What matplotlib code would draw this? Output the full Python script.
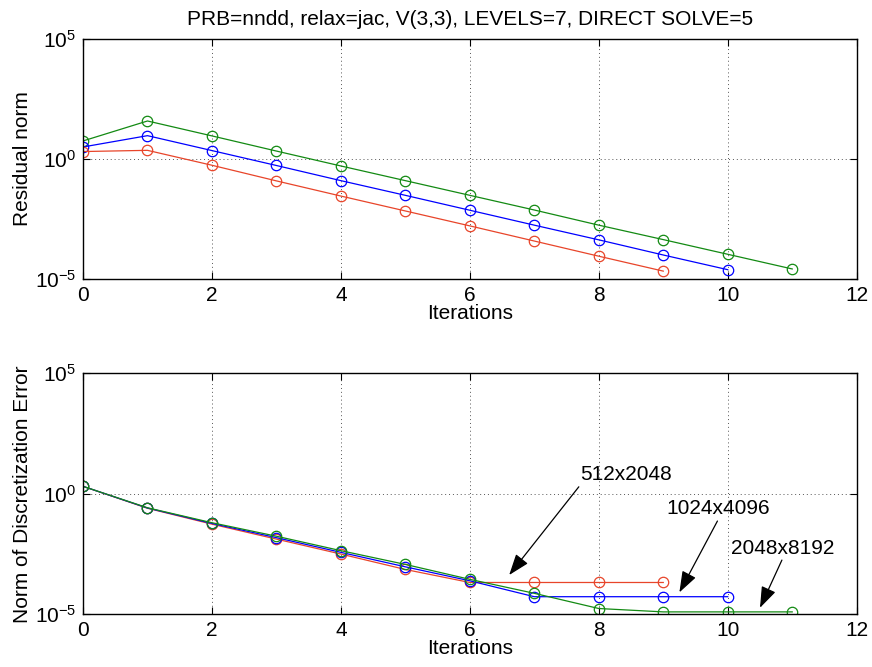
import numpy as np
import matplotlib
matplotlib.use("Agg")
import matplotlib.pyplot as plt

plt.rcParams['font.family'] = ['Liberation Sans', 'DejaVu Sans']

# Residual norm per multigrid iteration (log10 values)
res_it_red = [0, 1, 2, 3, 4, 5, 6, 7, 8, 9]
res_log_red = [0.31, 0.36, -0.26, -0.91, -1.54, -2.16, -2.78, -3.41, -4.04, -4.66]
res_it_blue = [0, 1, 2, 3, 4, 5, 6, 7, 8, 9, 10]
res_log_blue = [0.50, 0.97, 0.35, -0.27, -0.90, -1.51, -2.13, -2.75, -3.36, -3.99, -4.60]
res_it_green = [0, 1, 2, 3, 4, 5, 6, 7, 8, 9, 10, 11]
res_log_green = [0.75, 1.58, 0.96, 0.33, -0.29, -0.90, -1.51, -2.12, -2.75, -3.35, -3.96, -4.57]

# Norm of discretization error per iteration (log10 values)
err_log_red = [0.31, -0.60, -1.26, -1.88, -2.50, -3.14, -3.68, -3.68, -3.68, -3.68]
err_log_blue = [0.31, -0.59, -1.23, -1.82, -2.43, -3.03, -3.61, -4.27, -4.27, -4.27, -4.27]
err_log_green = [0.31, -0.58, -1.20, -1.76, -2.36, -2.93, -3.55, -4.13, -4.76, -4.90, -4.90, -4.90]

grid_labels = ['512x2048', '1024x4096', '2048x8192']
x_ticks = [0, 2, 4, 6, 8, 10, 12]

RED = '#e8452a'
BLUE = '#0000ff'
GREEN = '#138a13'
FS = 15

fig = plt.figure(figsize=(8.72, 6.67), dpi=100)
W, H = 872, 667
ax1 = fig.add_axes([83 / W, 1 - 279.3 / H, (856.7 - 83) / W, (279.3 - 38.7) / H])
ax2 = fig.add_axes([83 / W, 1 - 614.3 / H, (856.7 - 83) / W, (614.3 - 373.3) / H])

line_kw = dict(marker='o', markersize=7.5, markerfacecolor='none', linewidth=0.9,
               markeredgewidth=0.9)

def pw(v):
    return 10.0 ** np.asarray(v)

ax1.semilogy(res_it_green, pw(res_log_green), color=GREEN, **line_kw)
ax1.semilogy(res_it_blue, pw(res_log_blue), color=BLUE, **line_kw)
ax1.semilogy(res_it_red, pw(res_log_red), color=RED, **line_kw)

ax2.semilogy(res_it_red, pw(err_log_red), color=RED, **line_kw)
ax2.semilogy(res_it_blue, pw(err_log_blue), color=BLUE, **line_kw)
ax2.semilogy(res_it_green, pw(err_log_green), color=GREEN, **line_kw)

for ax, ylab in ((ax1, 'Residual norm'), (ax2, 'Norm of Discretization Error')):
    ax.set_xlim(0, 12)
    ax.set_ylim(1e-5, 1e5)
    ax.set_xticks(x_ticks)
    ax.set_xticklabels([str(t) for t in x_ticks])
    ax.set_yticks([1e-5, 1e0, 1e5])
    ax.yaxis.set_minor_locator(matplotlib.ticker.NullLocator())
    ax.tick_params(direction='in', length=5, width=0.8, labelsize=FS,
                   top=True, right=True, pad=5)
    ax.grid(True, which='major', linestyle=(0, (1, 3)), color='#555555', linewidth=0.7)
    for sp in ax.spines.values():
        sp.set_linewidth(1.0)
    ax.set_xlabel('Iterations', fontsize=FS, labelpad=-1)
    ax.set_ylabel(ylab, fontsize=FS, labelpad=2)

ax1.set_title('PRB=nndd, relax=jac, V(3,3), LEVELS=7, DIRECT SOLVE=5',
              fontsize=FS, pad=10)

# Arrows pointing at the stagnation level of each grid
arrow_tips = [(6.61, -3.37), (9.25, -4.09), (10.50, -4.73)]
arrow_tails = [(7.69, 0.29), (9.84, -1.13), (10.84, -2.75)]
text_pos = [(8.43, 0.82), (9.85, -0.63), (10.85, -2.27)]
for lab, tip, tail, tp in zip(grid_labels, arrow_tips, arrow_tails, text_pos):
    ax2.annotate('', xy=(tip[0], 10 ** tip[1]), xytext=(tail[0], 10 ** tail[1]),
                 arrowprops=dict(arrowstyle='-|>,head_length=1.0,head_width=0.36',
                                 mutation_scale=13, color='black', linewidth=0.9,
                                 shrinkA=0, shrinkB=0))
    ax2.text(tp[0], 10 ** tp[1], lab, fontsize=FS, ha='center', va='center')

fig.savefig('out.png', dpi=100)
